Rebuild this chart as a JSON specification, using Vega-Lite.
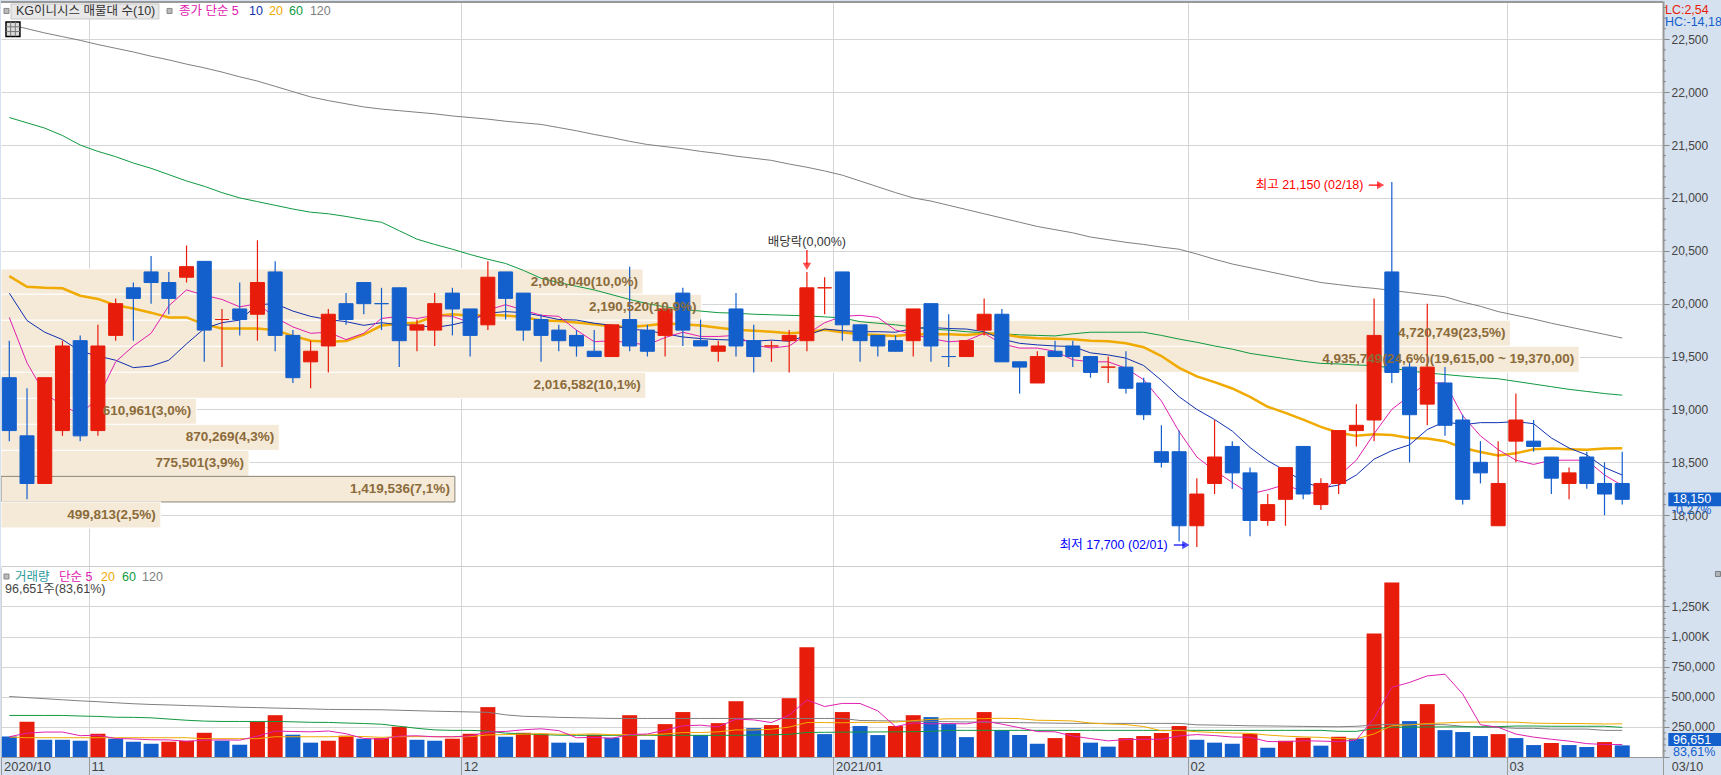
{"$schema":"https://vega.github.io/schema/vega-lite/v6.json","padding":0,"background":"#D6E1EF","spacing":0,
"config":{"font":"Liberation Sans, Noto Sans CJK KR","view":{"stroke":null,"fill":"#ffffff"},"text":{"fontSize":12.5}},
"datasets":{
"bars":[
{"i":0,"t":"2020-10-26","d":"down","o":19300,"h":19650,"l":18700,"c":18800,"v":171000,"vd":"down","m5":19870,"m10":20100,"m20":20260,"m60":21760,"m120":22640,"v5":168000,"v20":166000,"v60":345000,"v120":502000},
{"i":1,"t":"2020-10-27","d":"down","o":18750,"h":19200,"l":18150,"c":18300,"v":292000,"vd":"up","m5":19440,"m10":19840,"m20":20160,"m60":21710,"m120":22600,"v5":198000,"v20":160000,"v60":345000,"v120":493000},
{"i":2,"t":"2020-10-28","d":"up","o":18300,"h":19300,"l":18300,"c":19300,"v":143000,"vd":"down","m5":19150,"m10":19730,"m20":20150,"m60":21660,"m120":22560,"v5":207000,"v20":160000,"v60":345000,"v120":484000},
{"i":3,"t":"2020-10-29","d":"up","o":18800,"h":19650,"l":18750,"c":19600,"v":143000,"vd":"down","m5":19040,"m10":19660,"m20":20145,"m60":21590,"m120":22525,"v5":207000,"v20":160000,"v60":345000,"v120":475000},
{"i":4,"t":"2020-10-30","d":"down","o":19650,"h":19700,"l":18700,"c":18750,"v":135000,"vd":"down","m5":18950,"m10":19550,"m20":20075,"m60":21500,"m120":22490,"v5":177000,"v20":160000,"v60":340000,"v120":466000},
{"i":5,"t":"2020-11-02","d":"up","o":18800,"h":19800,"l":18750,"c":19600,"v":193000,"vd":"up","m5":19110,"m10":19505,"m20":20045,"m60":21440,"m120":22450,"v5":181000,"v20":160000,"v60":337000,"v120":459000},
{"i":6,"t":"2020-11-03","d":"up","o":19700,"h":20050,"l":19650,"c":20000,"v":152000,"vd":"down","m5":19450,"m10":19465,"m20":19985,"m60":21390,"m120":22415,"v5":153000,"v20":160000,"v60":330000,"v120":450000},
{"i":7,"t":"2020-11-04","d":"down","o":20150,"h":20200,"l":19650,"c":20050,"v":127000,"vd":"down","m5":19600,"m10":19395,"m20":19955,"m60":21330,"m120":22380,"v5":150000,"v20":160000,"v60":329000,"v120":442000},
{"i":8,"t":"2020-11-05","d":"down","o":20300,"h":20450,"l":20000,"c":20200,"v":110000,"vd":"down","m5":19720,"m10":19410,"m20":19915,"m60":21280,"m120":22340,"v5":143000,"v20":160000,"v60":325000,"v120":436000},
{"i":9,"t":"2020-11-06","d":"down","o":20200,"h":20300,"l":19900,"c":20050,"v":127000,"vd":"up","m5":19980,"m10":19465,"m20":19870,"m60":21220,"m120":22305,"v5":142000,"v20":160000,"v60":315000,"v120":432000},
{"i":10,"t":"2020-11-09","d":"up","o":20250,"h":20550,"l":20200,"c":20350,"v":135000,"vd":"up","m5":20130,"m10":19620,"m20":19870,"m60":21160,"m120":22265,"v5":130000,"v20":160000,"v60":305000,"v120":427000},
{"i":11,"t":"2020-11-10","d":"down","o":20400,"h":20400,"l":19450,"c":19750,"v":201000,"vd":"up","m5":20080,"m10":19765,"m20":19805,"m60":21110,"m120":22230,"v5":140000,"v20":152000,"v60":298000,"v120":423000},
{"i":12,"t":"2020-11-11","d":"up","o":19850,"h":19950,"l":19400,"c":19850,"v":135000,"vd":"down","m5":20040,"m10":19820,"m20":19765,"m60":21050,"m120":22190,"v5":142000,"v20":152000,"v60":295000,"v120":418000},
{"i":13,"t":"2020-11-12","d":"down","o":19950,"h":20200,"l":19700,"c":19850,"v":102000,"vd":"down","m5":19970,"m10":19845,"m20":19765,"m60":21000,"m120":22145,"v5":140000,"v20":152000,"v60":295000,"v120":413000},
{"i":14,"t":"2020-11-13","d":"up","o":19900,"h":20600,"l":19650,"c":20200,"v":292000,"vd":"up","m5":20000,"m10":19990,"m20":19765,"m60":20965,"m120":22105,"v5":173000,"v20":152000,"v60":295000,"v120":410000},
{"i":15,"t":"2020-11-16","d":"down","o":20300,"h":20400,"l":19550,"c":19700,"v":347000,"vd":"up","m5":19870,"m10":20000,"m20":19750,"m60":20930,"m120":22055,"v5":215000,"v20":168000,"v60":295000,"v120":406000},
{"i":16,"t":"2020-11-17","d":"down","o":19700,"h":19750,"l":19250,"c":19300,"v":185000,"vd":"down","m5":19780,"m10":19930,"m20":19695,"m60":20895,"m120":22005,"v5":212000,"v20":168000,"v60":292000,"v120":403000},
{"i":17,"t":"2020-11-18","d":"up","o":19450,"h":19650,"l":19200,"c":19550,"v":119000,"vd":"down","m5":19720,"m10":19880,"m20":19650,"m60":20865,"m120":21955,"v5":209000,"v20":168000,"v60":288000,"v120":399000},
{"i":18,"t":"2020-11-19","d":"up","o":19600,"h":19950,"l":19350,"c":19900,"v":135000,"vd":"up","m5":19730,"m10":19850,"m20":19640,"m60":20850,"m120":21920,"v5":216000,"v20":168000,"v60":287000,"v120":395000},
{"i":19,"t":"2020-11-20","d":"down","o":20000,"h":20100,"l":19800,"c":19850,"v":177000,"vd":"up","m5":19660,"m10":19830,"m20":19648,"m60":20825,"m120":21890,"v5":193000,"v20":171000,"v60":282000,"v120":394000},
{"i":20,"t":"2020-11-23","d":"down","o":20200,"h":20200,"l":19900,"c":20000,"v":152000,"vd":"down","m5":19720,"m10":19795,"m20":19708,"m60":20795,"m120":21860,"v5":154000,"v20":170000,"v60":278000,"v120":393000},
{"i":21,"t":"2020-11-24","d":"down","o":20000,"h":20150,"l":19750,"c":20000,"v":157000,"vd":"up","m5":19860,"m10":19820,"m20":19793,"m60":20770,"m120":21840,"v5":148000,"v20":163000,"v60":272000,"v120":392000},
{"i":22,"t":"2020-11-25","d":"down","o":20150,"h":20150,"l":19400,"c":19650,"v":251000,"vd":"up","m5":19880,"m10":19800,"m20":19810,"m60":20690,"m120":21825,"v5":174000,"v20":169000,"v60":255000,"v120":388000},
{"i":23,"t":"2020-11-26","d":"up","o":19750,"h":19850,"l":19550,"c":19800,"v":143000,"vd":"down","m5":19860,"m10":19795,"m20":19820,"m60":20610,"m120":21810,"v5":176000,"v20":169000,"v60":238000,"v120":384000},
{"i":24,"t":"2020-11-27","d":"up","o":19750,"h":20100,"l":19600,"c":20000,"v":135000,"vd":"down","m5":19890,"m10":19775,"m20":19883,"m60":20560,"m120":21795,"v5":168000,"v20":169000,"v60":225000,"v120":380000},
{"i":25,"t":"2020-11-30","d":"down","o":20100,"h":20150,"l":19700,"c":19950,"v":152000,"vd":"up","m5":19880,"m10":19800,"m20":19900,"m60":20515,"m120":21775,"v5":168000,"v20":167000,"v60":221000,"v120":377000},
{"i":26,"t":"2020-12-01","d":"down","o":19950,"h":19950,"l":19500,"c":19700,"v":193000,"vd":"up","m5":19820,"m10":19840,"m20":19885,"m60":20465,"m120":21760,"v5":175000,"v20":169000,"v60":221000,"v120":374000},
{"i":27,"t":"2020-12-02","d":"up","o":19800,"h":20400,"l":19750,"c":20250,"v":414000,"vd":"up","m5":19940,"m10":19910,"m20":19895,"m60":20420,"m120":21745,"v5":207000,"v20":183000,"v60":215000,"v120":371000},
{"i":28,"t":"2020-12-03","d":"down","o":20300,"h":20300,"l":19850,"c":20050,"v":168000,"vd":"down","m5":19990,"m10":19925,"m20":19888,"m60":20380,"m120":21725,"v5":212000,"v20":186000,"v60":198000,"v120":350000},
{"i":29,"t":"2020-12-04","d":"down","o":20100,"h":20100,"l":19650,"c":19750,"v":201000,"vd":"up","m5":19940,"m10":19915,"m20":19873,"m60":20315,"m120":21710,"v5":226000,"v20":190000,"v60":192000,"v120":338000},
{"i":30,"t":"2020-12-07","d":"down","o":19850,"h":19900,"l":19450,"c":19700,"v":193000,"vd":"up","m5":19890,"m10":19885,"m20":19840,"m60":20240,"m120":21695,"v5":234000,"v20":193000,"v60":186000,"v120":334000},
{"i":31,"t":"2020-12-08","d":"down","o":19750,"h":19800,"l":19550,"c":19650,"v":119000,"vd":"down","m5":19880,"m10":19850,"m20":19835,"m60":20200,"m120":21665,"v5":219000,"v20":189000,"v60":181000,"v120":329000},
{"i":32,"t":"2020-12-09","d":"down","o":19700,"h":19750,"l":19500,"c":19600,"v":119000,"vd":"down","m5":19750,"m10":19845,"m20":19823,"m60":20165,"m120":21635,"v5":160000,"v20":188000,"v60":180000,"v120":326000},
{"i":33,"t":"2020-12-10","d":"down","o":19550,"h":19750,"l":19500,"c":19500,"v":185000,"vd":"up","m5":19640,"m10":19815,"m20":19805,"m60":20130,"m120":21600,"v5":163000,"v20":192000,"v60":180000,"v120":323000},
{"i":34,"t":"2020-12-11","d":"up","o":19500,"h":19800,"l":19500,"c":19800,"v":160000,"vd":"down","m5":19650,"m10":19795,"m20":19785,"m60":20085,"m120":21570,"v5":155000,"v20":185000,"v60":180000,"v120":320000},
{"i":35,"t":"2020-12-14","d":"down","o":19850,"h":20350,"l":19550,"c":19600,"v":347000,"vd":"up","m5":19630,"m10":19760,"m20":19780,"m60":20040,"m120":21535,"v5":186000,"v20":185000,"v60":180000,"v120":320000},
{"i":36,"t":"2020-12-15","d":"down","o":19750,"h":19800,"l":19500,"c":19550,"v":143000,"vd":"down","m5":19610,"m10":19745,"m20":19793,"m60":20000,"m120":21505,"v5":191000,"v20":183000,"v60":180000,"v120":320000},
{"i":37,"t":"2020-12-16","d":"up","o":19700,"h":19950,"l":19500,"c":19950,"v":273000,"vd":"up","m5":19680,"m10":19715,"m20":19813,"m60":19970,"m120":21485,"v5":222000,"v20":191000,"v60":180000,"v120":320000},
{"i":38,"t":"2020-12-17","d":"down","o":20100,"h":20150,"l":19600,"c":19750,"v":373000,"vd":"up","m5":19730,"m10":19685,"m20":19805,"m60":19945,"m120":21465,"v5":259000,"v20":203000,"v60":180000,"v120":320000},
{"i":39,"t":"2020-12-18","d":"down","o":19650,"h":19850,"l":19600,"c":19600,"v":182000,"vd":"down","m5":19690,"m10":19670,"m20":19793,"m60":19930,"m120":21440,"v5":264000,"v20":203000,"v60":180000,"v120":320000},
{"i":40,"t":"2020-12-21","d":"up","o":19550,"h":19650,"l":19450,"c":19600,"v":281000,"vd":"up","m5":19690,"m10":19660,"m20":19773,"m60":19915,"m120":21420,"v5":250000,"v20":209000,"v60":180000,"v120":320000},
{"i":41,"t":"2020-12-22","d":"down","o":19950,"h":20100,"l":19500,"c":19600,"v":463000,"vd":"up","m5":19700,"m10":19655,"m20":19753,"m60":19910,"m120":21395,"v5":314000,"v20":225000,"v60":180000,"v120":320000},
{"i":42,"t":"2020-12-23","d":"down","o":19650,"h":19800,"l":19350,"c":19500,"v":240000,"vd":"down","m5":19610,"m10":19645,"m20":19745,"m60":19900,"m120":21375,"v5":308000,"v20":224000,"v60":182000,"v120":320000},
{"i":43,"t":"2020-12-24","d":"up","o":19600,"h":19650,"l":19450,"c":19600,"v":265000,"vd":"up","m5":19580,"m10":19655,"m20":19735,"m60":19895,"m120":21355,"v5":286000,"v20":230000,"v60":184000,"v120":320000},
{"i":44,"t":"2020-12-28","d":"up","o":19650,"h":19750,"l":19350,"c":19700,"v":488000,"vd":"up","m5":19600,"m10":19645,"m20":19720,"m60":19890,"m120":21320,"v5":347000,"v20":248000,"v60":188000,"v120":320000},
{"i":45,"t":"2020-12-29","d":"up","o":19650,"h":20300,"l":19550,"c":20150,"v":911000,"vd":"up","m5":19710,"m10":19700,"m20":19730,"m60":19885,"m120":21290,"v5":473000,"v20":286000,"v60":204000,"v120":320000},
{"i":46,"t":"2020-12-30","d":"up","o":20150,"h":20250,"l":19900,"c":20150,"v":190000,"vd":"down","m5":19820,"m10":19760,"m20":19753,"m60":19875,"m120":21255,"v5":419000,"v20":286000,"v60":205000,"v120":320000},
{"i":47,"t":"2021-01-04","d":"down","o":20300,"h":20300,"l":19650,"c":19800,"v":373000,"vd":"up","m5":19880,"m10":19745,"m20":19730,"m60":19865,"m120":21215,"v5":445000,"v20":284000,"v60":206000,"v120":320000},
{"i":48,"t":"2021-01-05","d":"down","o":19800,"h":19800,"l":19450,"c":19650,"v":257000,"vd":"down","m5":19890,"m10":19735,"m20":19710,"m60":19830,"m120":21160,"v5":444000,"v20":288000,"v60":207000,"v120":303000},
{"i":49,"t":"2021-01-06","d":"down","o":19700,"h":19700,"l":19500,"c":19600,"v":182000,"vd":"down","m5":19870,"m10":19735,"m20":19703,"m60":19815,"m120":21105,"v5":383000,"v20":287000,"v60":208000,"v120":301000},
{"i":50,"t":"2021-01-07","d":"down","o":19650,"h":19700,"l":19550,"c":19550,"v":257000,"vd":"up","m5":19750,"m10":19730,"m20":19695,"m60":19800,"m120":21050,"v5":252000,"v20":290000,"v60":209000,"v120":299000},
{"i":51,"t":"2021-01-08","d":"up","o":19650,"h":19950,"l":19500,"c":19950,"v":347000,"vd":"up","m5":19710,"m10":19765,"m20":19710,"m60":19780,"m120":21000,"v5":283000,"v20":302000,"v60":210000,"v120":297000},
{"i":52,"t":"2021-01-11","d":"down","o":20000,"h":20000,"l":19450,"c":19600,"v":331000,"vd":"down","m5":19670,"m10":19775,"m20":19710,"m60":19760,"m120":20970,"v5":275000,"v20":312000,"v60":213000,"v120":295000},
{"i":53,"t":"2021-01-12","d":"down","o":19500,"h":19900,"l":19400,"c":19500,"v":273000,"vd":"down","m5":19640,"m10":19765,"m20":19710,"m60":19750,"m120":20930,"v5":278000,"v20":317000,"v60":221000,"v120":293000},
{"i":54,"t":"2021-01-13","d":"up","o":19500,"h":19650,"l":19500,"c":19650,"v":165000,"vd":"down","m5":19650,"m10":19760,"m20":19703,"m60":19735,"m120":20890,"v5":275000,"v20":317000,"v60":221000,"v120":291000},
{"i":55,"t":"2021-01-14","d":"up","o":19750,"h":20050,"l":19700,"c":19900,"v":373000,"vd":"up","m5":19720,"m10":19735,"m20":19718,"m60":19725,"m120":20850,"v5":298000,"v20":318000,"v60":221000,"v120":289000},
{"i":56,"t":"2021-01-15","d":"down","o":19900,"h":19950,"l":19450,"c":19450,"v":223000,"vd":"down","m5":19620,"m10":19665,"m20":19713,"m60":19715,"m120":20810,"v5":273000,"v20":322000,"v60":221000,"v120":287000},
{"i":57,"t":"2021-01-18","d":"down","o":19450,"h":19450,"l":19150,"c":19400,"v":182000,"vd":"down","m5":19580,"m10":19625,"m20":19685,"m60":19705,"m120":20770,"v5":243000,"v20":318000,"v60":221000,"v120":285000},
{"i":58,"t":"2021-01-19","d":"up","o":19250,"h":19550,"l":19250,"c":19500,"v":110000,"vd":"down","m5":19580,"m10":19610,"m20":19673,"m60":19700,"m120":20730,"v5":211000,"v20":305000,"v60":221000,"v120":283000},
{"i":59,"t":"2021-01-20","d":"down","o":19550,"h":19650,"l":19500,"c":19500,"v":157000,"vd":"up","m5":19550,"m10":19600,"m20":19668,"m60":19695,"m120":20700,"v5":209000,"v20":303000,"v60":221000,"v120":281000},
{"i":60,"t":"2021-01-21","d":"down","o":19600,"h":19650,"l":19400,"c":19500,"v":199000,"vd":"up","m5":19470,"m10":19595,"m20":19663,"m60":19715,"m120":20670,"v5":174000,"v20":299000,"v60":221000,"v120":279000},
{"i":61,"t":"2021-01-22","d":"down","o":19500,"h":19500,"l":19300,"c":19350,"v":119000,"vd":"down","m5":19450,"m10":19535,"m20":19650,"m60":19730,"m120":20630,"v5":153000,"v20":282000,"v60":221000,"v120":279000},
{"i":62,"t":"2021-01-25","d":"up","o":19400,"h":19500,"l":19250,"c":19400,"v":86000,"vd":"down","m5":19450,"m10":19515,"m20":19645,"m60":19730,"m120":20605,"v5":134000,"v20":274000,"v60":221000,"v120":279000},
{"i":63,"t":"2021-01-26","d":"down","o":19400,"h":19550,"l":19150,"c":19200,"v":157000,"vd":"up","m5":19390,"m10":19485,"m20":19625,"m60":19730,"m120":20580,"v5":144000,"v20":269000,"v60":221000,"v120":279000},
{"i":64,"t":"2021-01-27","d":"down","o":19250,"h":19300,"l":18900,"c":18950,"v":174000,"vd":"up","m5":19280,"m10":19415,"m20":19588,"m60":19730,"m120":20560,"v5":147000,"v20":253000,"v60":221000,"v120":279000},
{"i":65,"t":"2021-01-28","d":"down","o":18600,"h":18850,"l":18450,"c":18500,"v":199000,"vd":"up","m5":19080,"m10":19275,"m20":19505,"m60":19700,"m120":20535,"v5":147000,"v20":218000,"v60":221000,"v120":279000},
{"i":66,"t":"2021-01-29","d":"down","o":18600,"h":18800,"l":17750,"c":17900,"v":257000,"vd":"up","m5":18790,"m10":19120,"m20":19393,"m60":19665,"m120":20515,"v5":175000,"v20":221000,"v60":221000,"v120":279000},
{"i":67,"t":"2021-02-01","d":"up","o":17900,"h":18350,"l":17700,"c":18200,"v":143000,"vd":"down","m5":18550,"m10":19000,"m20":19313,"m60":19635,"m120":20470,"v5":186000,"v20":210000,"v60":221000,"v120":267000},
{"i":68,"t":"2021-02-02","d":"up","o":18300,"h":18900,"l":18200,"c":18550,"v":119000,"vd":"down","m5":18420,"m10":18905,"m20":19258,"m60":19600,"m120":20420,"v5":178000,"v20":203000,"v60":221000,"v120":265000},
{"i":69,"t":"2021-02-03","d":"down","o":18650,"h":18700,"l":18250,"c":18400,"v":110000,"vd":"down","m5":18310,"m10":18795,"m20":19198,"m60":19570,"m120":20375,"v5":166000,"v20":199000,"v60":221000,"v120":262000},
{"i":70,"t":"2021-02-04","d":"down","o":18400,"h":18450,"l":17800,"c":17950,"v":193000,"vd":"up","m5":18200,"m10":18640,"m20":19118,"m60":19530,"m120":20340,"v5":164000,"v20":196000,"v60":221000,"v120":259000},
{"i":71,"t":"2021-02-05","d":"up","o":17950,"h":18200,"l":17900,"c":18100,"v":77000,"vd":"down","m5":18240,"m10":18515,"m20":19025,"m60":19505,"m120":20305,"v5":128000,"v20":182000,"v60":221000,"v120":258000},
{"i":72,"t":"2021-02-08","d":"up","o":18150,"h":18450,"l":17900,"c":18450,"v":135000,"vd":"up","m5":18290,"m10":18420,"m20":18968,"m60":19480,"m120":20270,"v5":127000,"v20":173000,"v60":221000,"v120":256000},
{"i":73,"t":"2021-02-09","d":"down","o":18650,"h":18650,"l":18150,"c":18200,"v":160000,"vd":"up","m5":18220,"m10":18320,"m20":18903,"m60":19455,"m120":20235,"v5":135000,"v20":167000,"v60":221000,"v120":254000},
{"i":74,"t":"2021-02-10","d":"up","o":18100,"h":18350,"l":18050,"c":18300,"v":94000,"vd":"down","m5":18200,"m10":18255,"m20":18835,"m60":19435,"m120":20200,"v5":132000,"v20":163000,"v60":221000,"v120":252000},
{"i":75,"t":"2021-02-15","d":"up","o":18300,"h":18800,"l":18200,"c":18800,"v":168000,"vd":"up","m5":18370,"m10":18285,"m20":18780,"m60":19430,"m120":20180,"v5":127000,"v20":153000,"v60":213000,"v120":251000},
{"i":76,"t":"2021-02-16","d":"up","o":18800,"h":19050,"l":18650,"c":18850,"v":152000,"vd":"down","m5":18520,"m10":18380,"m20":18750,"m60":19420,"m120":20160,"v5":142000,"v20":150000,"v60":213000,"v120":255000},
{"i":77,"t":"2021-02-17","d":"up","o":18900,"h":20050,"l":18700,"c":19700,"v":1026000,"vd":"up","m5":18770,"m10":18530,"m20":18765,"m60":19415,"m120":20145,"v5":320000,"v20":192000,"v60":235000,"v120":265000},
{"i":78,"t":"2021-02-18","d":"down","o":20300,"h":21150,"l":19250,"c":19350,"v":1449000,"vd":"up","m5":19000,"m10":18610,"m20":18758,"m60":19390,"m120":20125,"v5":578000,"v20":259000,"v60":247000,"v120":271000},
{"i":79,"t":"2021-02-19","d":"down","o":19400,"h":19450,"l":18500,"c":18950,"v":298000,"vd":"down","m5":19130,"m10":18665,"m20":18730,"m60":19365,"m120":20105,"v5":619000,"v20":266000,"v60":248000,"v120":271000},
{"i":80,"t":"2021-02-22","d":"up","o":19050,"h":20000,"l":18850,"c":19400,"v":439000,"vd":"up","m5":19250,"m10":18810,"m20":18725,"m60":19345,"m120":20085,"v5":673000,"v20":278000,"v60":249000,"v120":270000},
{"i":81,"t":"2021-02-23","d":"down","o":19250,"h":19400,"l":18750,"c":18850,"v":223000,"vd":"down","m5":19250,"m10":18885,"m20":18700,"m60":19330,"m120":20065,"v5":687000,"v20":283000,"v60":250000,"v120":268000},
{"i":82,"t":"2021-02-24","d":"down","o":18900,"h":18950,"l":18100,"c":18150,"v":207000,"vd":"down","m5":18940,"m10":18855,"m20":18638,"m60":19315,"m120":20015,"v5":523000,"v20":289000,"v60":250000,"v120":255000},
{"i":83,"t":"2021-02-25","d":"down","o":18500,"h":18700,"l":18300,"c":18400,"v":174000,"vd":"down","m5":18750,"m10":18875,"m20":18598,"m60":19300,"m120":19975,"v5":268000,"v20":290000,"v60":251000,"v120":246000},
{"i":84,"t":"2021-02-26","d":"up","o":17900,"h":18700,"l":17900,"c":18300,"v":190000,"vd":"up","m5":18620,"m10":18875,"m20":18565,"m60":19290,"m120":19925,"v5":247000,"v20":291000,"v60":252000,"v120":246000},
{"i":85,"t":"2021-03-02","d":"up","o":18700,"h":19150,"l":18500,"c":18900,"v":157000,"vd":"down","m5":18520,"m10":18885,"m20":18585,"m60":19265,"m120":19890,"v5":190000,"v20":289000,"v60":257000,"v120":238000},
{"i":86,"t":"2021-03-03","d":"down","o":18700,"h":18900,"l":18600,"c":18650,"v":99000,"vd":"down","m5":18480,"m10":18865,"m20":18623,"m60":19240,"m120":19855,"v5":165000,"v20":281000,"v60":257000,"v120":238000},
{"i":87,"t":"2021-03-04","d":"down","o":18550,"h":18550,"l":18200,"c":18350,"v":116000,"vd":"up","m5":18520,"m10":18730,"m20":18630,"m60":19215,"m120":19815,"v5":147000,"v20":279000,"v60":255000,"v120":232000},
{"i":88,"t":"2021-03-05","d":"up","o":18300,"h":18450,"l":18150,"c":18400,"v":99000,"vd":"down","m5":18520,"m10":18635,"m20":18623,"m60":19190,"m120":19780,"v5":132000,"v20":278000,"v60":255000,"v120":232000},
{"i":89,"t":"2021-03-08","d":"down","o":18550,"h":18600,"l":18250,"c":18300,"v":83000,"vd":"down","m5":18520,"m10":18570,"m20":18618,"m60":19170,"m120":19745,"v5":111000,"v20":277000,"v60":255000,"v120":232000},
{"i":90,"t":"2021-03-09","d":"down","o":18300,"h":18500,"l":18000,"c":18200,"v":124000,"vd":"up","m5":18380,"m10":18450,"m20":18630,"m60":19150,"m120":19710,"v5":104000,"v20":274000,"v60":255000,"v120":221000},
{"i":91,"t":"2021-03-10","d":"down","o":18300,"h":18600,"l":18100,"c":18150,"v":96651,"vd":"down","m5":18280,"m10":18380,"m20":18633,"m60":19135,"m120":19675,"v5":104000,"v20":275000,"v60":246000,"v120":221000}
],
"bands":[
{"top":20328,"bot":20089,"mid":20208,"vol0":0,"vol":2008040,"cur":false,"label":"2,008,040(10,0%)"},
{"top":20089,"bot":19843,"mid":19966,"vol0":0,"vol":2190520,"cur":false,"label":"2,190,520(10,9%)"},
{"top":19843,"bot":19597,"mid":19720,"vol0":0,"vol":4720749,"cur":false,"label":"4,720,749(23,5%)"},
{"top":19597,"bot":19351,"mid":19474,"vol0":0,"vol":4935749,"cur":false,"label":"4,935,749(24,6%)(19,615,00 ~ 19,370,00)"},
{"top":19351,"bot":19105,"mid":19228,"vol0":0,"vol":2016582,"cur":false,"label":"2,016,582(10,1%)"},
{"top":19105,"bot":18859,"mid":18982,"vol0":0,"vol":610961,"cur":false,"label":"610,961(3,0%)"},
{"top":18859,"bot":18613,"mid":18736,"vol0":0,"vol":870269,"cur":false,"label":"870,269(4,3%)"},
{"top":18613,"bot":18367,"mid":18490,"vol0":0,"vol":775501,"cur":false,"label":"775,501(3,9%)"},
{"top":18367,"bot":18125,"mid":18246,"vol0":0,"vol":1419536,"cur":true,"label":"1,419,536(7,1%)"},
{"top":18125,"bot":17879,"mid":18002,"vol0":0,"vol":499813,"cur":false,"label":"499,813(2,5%)"}
],
"priceTicks":[{"i0":93.3,"i1":93.47,"p":17600},{"i0":93.3,"i1":93.47,"p":17700},{"i0":93.3,"i1":93.47,"p":17800},{"i0":93.3,"i1":93.47,"p":17900},{"i0":93.3,"i1":93.47,"p":18100},{"i0":93.3,"i1":93.47,"p":18200},{"i0":93.3,"i1":93.47,"p":18300},{"i0":93.3,"i1":93.47,"p":18400},{"i0":93.3,"i1":93.47,"p":18600},{"i0":93.3,"i1":93.47,"p":18700},{"i0":93.3,"i1":93.47,"p":18800},{"i0":93.3,"i1":93.47,"p":18900},{"i0":93.3,"i1":93.47,"p":19100},{"i0":93.3,"i1":93.47,"p":19200},{"i0":93.3,"i1":93.47,"p":19300},{"i0":93.3,"i1":93.47,"p":19400},{"i0":93.3,"i1":93.47,"p":19600},{"i0":93.3,"i1":93.47,"p":19700},{"i0":93.3,"i1":93.47,"p":19800},{"i0":93.3,"i1":93.47,"p":19900},{"i0":93.3,"i1":93.47,"p":20100},{"i0":93.3,"i1":93.47,"p":20200},{"i0":93.3,"i1":93.47,"p":20300},{"i0":93.3,"i1":93.47,"p":20400},{"i0":93.3,"i1":93.47,"p":20600},{"i0":93.3,"i1":93.47,"p":20700},{"i0":93.3,"i1":93.47,"p":20800},{"i0":93.3,"i1":93.47,"p":20900},{"i0":93.3,"i1":93.47,"p":21100},{"i0":93.3,"i1":93.47,"p":21200},{"i0":93.3,"i1":93.47,"p":21300},{"i0":93.3,"i1":93.47,"p":21400},{"i0":93.3,"i1":93.47,"p":21600},{"i0":93.3,"i1":93.47,"p":21700},{"i0":93.3,"i1":93.47,"p":21800},{"i0":93.3,"i1":93.47,"p":21900},{"i0":93.3,"i1":93.47,"p":22100},{"i0":93.3,"i1":93.47,"p":22200},{"i0":93.3,"i1":93.47,"p":22300},{"i0":93.3,"i1":93.47,"p":22400},{"i0":93.3,"i1":93.47,"p":22600},{"i0":93.3,"i1":93.47,"p":22700},{"i0":93.3,"i1":93.47,"p":22800}],
"volTicks":[{"i0":93.3,"i1":93.47,"v":50000},{"i0":93.3,"i1":93.47,"v":100000},{"i0":93.3,"i1":93.47,"v":150000},{"i0":93.3,"i1":93.47,"v":200000},{"i0":93.3,"i1":93.47,"v":300000},{"i0":93.3,"i1":93.47,"v":350000},{"i0":93.3,"i1":93.47,"v":400000},{"i0":93.3,"i1":93.47,"v":450000},{"i0":93.3,"i1":93.47,"v":550000},{"i0":93.3,"i1":93.47,"v":600000},{"i0":93.3,"i1":93.47,"v":650000},{"i0":93.3,"i1":93.47,"v":700000},{"i0":93.3,"i1":93.47,"v":800000},{"i0":93.3,"i1":93.47,"v":850000},{"i0":93.3,"i1":93.47,"v":900000},{"i0":93.3,"i1":93.47,"v":950000},{"i0":93.3,"i1":93.47,"v":1050000},{"i0":93.3,"i1":93.47,"v":1100000},{"i0":93.3,"i1":93.47,"v":1150000},{"i0":93.3,"i1":93.47,"v":1200000},{"i0":93.3,"i1":93.47,"v":1300000},{"i0":93.3,"i1":93.47,"v":1350000},{"i0":93.3,"i1":93.47,"v":1400000},{"i0":93.3,"i1":93.47,"v":1450000},{"i0":93.3,"i1":93.47,"v":1500000},{"i0":93.3,"i1":93.47,"v":1550000}],
"priceText":[
{"s":"name","i":0.38,"p":22768,"label":"KG이니시스 매물대 수(10)"},
{"s":"m5","i":9.57,"p":22768,"label":"종가 단순 5"},
{"s":"m10","i":13.52,"p":22768,"label":"10"},
{"s":"m20","i":14.65,"p":22768,"label":"20"},
{"s":"m60","i":15.78,"p":22768,"label":"60"},
{"s":"m120","i":16.96,"p":22768,"label":"120"},
{"s":"red","i":93.41,"p":22777,"label":"LC:2,54"},
{"s":"blue","i":93.41,"p":22664,"label":"HC:-14,18"},
{"s":"white","i":93.86,"p":18150,"label":"18,150"},
{"s":"blue","i":93.8,"p":18049,"label":"-0,27%"}
],
"volText":[
{"s":"teal","i":0.32,"v":1498000,"label":"거래량"},
{"s":"m5","i":2.8,"v":1498000,"label":"단순 5"},
{"s":"m20","i":5.17,"v":1498000,"label":"20"},
{"s":"m60","i":6.36,"v":1498000,"label":"60"},
{"s":"m120","i":7.49,"v":1498000,"label":"120"},
{"s":"dark","i":-0.24,"v":1391000,"label":"96,651주(83,61%)"},
{"s":"white","i":93.86,"v":145000,"label":"96,651"},
{"s":"blue","i":93.86,"v":44000,"label":"83,61%"},
{"s":"dark","i":93.8,"v":-83000,"label":"03/10"}
]
},
"vconcat":[
{"width":1662,"height":566,
"resolve":{"scale":{"x":"independent","color":"independent"},"axis":{"y":"independent"}},
"layer":[
{"data":{"name":"bands"},"mark":{"type":"rect","clip":true,"fill":"#F5E9D7"},
"encoding":{"x":{"field":"vol0","type":"quantitative","scale":{"domain":[0,5198000],"nice":false,"zero":false,"padding":0},"axis":null},"x2":{"field":"vol"},
"y":{"field":"top","type":"quantitative","scale":{"domain":[17510,22862],"nice":false,"zero":false,"padding":0},"axis":null},"y2":{"field":"bot"},
"stroke":{"condition":{"test":"datum.cur","value":"#8a8578"},"value":"#ffffff"}}},
{"data":{"name":"bars"},"mark":{"type":"line","stroke":"#808080","strokeWidth":1},
"encoding":{"x":{"field":"i","type":"quantitative","scale":{"domain":[-0.468,93.3],"nice":false,"zero":false,"padding":0},
"axis":{"title":null,"orient":"bottom","values":[4.5,25.5,46.5,66.5,84.5],"grid":true,"gridColor":"#D5D5D5","gridWidth":1,"labels":false,"ticks":false,"domain":true,"domainColor":"#999999","domainWidth":2,"minExtent":0,"maxExtent":0}},
"y":{"field":"m120","type":"quantitative","scale":{"domain":[17510,22862],"nice":false,"zero":false,"padding":0},
"axis":{"title":null,"orient":"right","values":[18000,18500,19000,19500,20000,20500,21000,21500,22000,22500],"labelExpr":"format(datum.value,',')","labelFontSize":12,"labelColor":"#444444","labelPadding":2,"labelFlush":false,"labelBound":false,"labelOverlap":false,
"grid":true,"gridColor":"#D5D5D5","gridWidth":1,"domain":true,"domainColor":"#999999","domainWidth":2,"tickColor":"#888888","tickWidth":1,"tickSize":6,"minExtent":59,"maxExtent":59}}}},
{"data":{"name":"priceTicks"},"mark":{"type":"rule","color":"#888888","strokeWidth":1},"encoding":{"x":{"field":"i0","type":"quantitative","scale":{"domain":[-0.468,93.3],"nice":false,"zero":false,"padding":0},"axis":null},"x2":{"field":"i1"},"y":{"field":"p","type":"quantitative","axis":null}}},
{"data":{"values":[{"i0":-0.468,"i1":93.3,"p":22853}]},"mark":{"type":"rule","color":"#999999","strokeWidth":2},"encoding":{"x":{"field":"i0","type":"quantitative","scale":{"domain":[-0.468,93.3],"nice":false,"zero":false,"padding":0},"axis":null},"x2":{"field":"i1"},"y":{"field":"p","type":"quantitative","axis":null}}},
{"data":{"name":"bars"},"mark":{"type":"line","stroke":"#109A40","strokeWidth":1},"encoding":{"x":{"field":"i","type":"quantitative","scale":{"domain":[-0.468,93.3],"nice":false,"zero":false,"padding":0},"axis":null},"y":{"field":"m60","type":"quantitative","axis":null}}},
{"data":{"name":"bars"},"mark":{"type":"line","stroke":"#F0AA00","strokeWidth":2.5},"encoding":{"x":{"field":"i","type":"quantitative","scale":{"domain":[-0.468,93.3],"nice":false,"zero":false,"padding":0},"axis":null},"y":{"field":"m20","type":"quantitative","axis":null}}},
{"data":{"name":"bars"},"mark":{"type":"line","stroke":"#1030B0","strokeWidth":1},"encoding":{"x":{"field":"i","type":"quantitative","scale":{"domain":[-0.468,93.3],"nice":false,"zero":false,"padding":0},"axis":null},"y":{"field":"m10","type":"quantitative","axis":null}}},
{"data":{"name":"bars"},"mark":{"type":"line","stroke":"#E020B0","strokeWidth":1},"encoding":{"x":{"field":"i","type":"quantitative","scale":{"domain":[-0.468,93.3],"nice":false,"zero":false,"padding":0},"axis":null},"y":{"field":"m5","type":"quantitative","axis":null}}},
{"data":{"name":"bars"},"mark":{"type":"rule","strokeWidth":1.2},"encoding":{"x":{"field":"i","type":"quantitative","scale":{"domain":[-0.468,93.3],"nice":false,"zero":false,"padding":0},"axis":null},"y":{"field":"l","type":"quantitative","axis":null},"y2":{"field":"h"},
"color":{"field":"d","type":"nominal","scale":{"domain":["up","down"],"range":["#E81C0A","#135FCC"]},"legend":null}}},
{"data":{"name":"bars"},"mark":{"type":"bar","size":14,"strokeWidth":1,"orient":"vertical"},"encoding":{"x":{"field":"i","type":"quantitative","scale":{"domain":[-0.468,93.3],"nice":false,"zero":false,"padding":0},"axis":null},"y":{"field":"o","type":"quantitative","axis":null},"y2":{"field":"c"},
"color":{"field":"d","type":"nominal","scale":{"domain":["up","down"],"range":["#E81C0A","#135FCC"]},"legend":null},
"stroke":{"field":"d","type":"nominal","scale":{"domain":["up","down"],"range":["#E81C0A","#135FCC"]},"legend":null}}},
{"data":{"name":"bands"},"mark":{"type":"text","align":"right","dx":-5,"fontWeight":"bold","color":"#8B6B3A","fontSize":13.5},
"encoding":{"x":{"field":"vol","type":"quantitative","scale":{"domain":[0,5198000],"nice":false,"zero":false,"padding":0},"axis":null},"y":{"field":"mid","type":"quantitative","axis":null},"text":{"field":"label"}}},
{"data":{"values":[{"i0":0.096,"i1":8.44,"p0":22834,"p1":22692}]},"mark":{"type":"rect","fill":"#E8E8E8","stroke":"#C8C8C8"},"encoding":{"x":{"field":"i0","type":"quantitative","scale":{"domain":[-0.468,93.3],"nice":false,"zero":false,"padding":0},"axis":null},"x2":{"field":"i1"},"y":{"field":"p0","type":"quantitative","axis":null},"y2":{"field":"p1"}}},
{"data":{"values":[{"i0":-0.186,"i1":0.6,"p0":22664,"p1":22527}]},"mark":{"type":"rect","fill":"#DDDDDD","stroke":"#000000","strokeWidth":1.5},"encoding":{"x":{"field":"i0","type":"quantitative","scale":{"domain":[-0.468,93.3],"nice":false,"zero":false,"padding":0},"axis":null},"x2":{"field":"i1"},"y":{"field":"p0","type":"quantitative","axis":null},"y2":{"field":"p1"}}},
{"data":{"values":[{"i0":-0.186,"i1":0.6,"p":22618},{"i0":-0.186,"i1":0.6,"p":22573}]},"mark":{"type":"rule","color":"#777777","strokeWidth":1},"encoding":{"x":{"field":"i0","type":"quantitative","scale":{"domain":[-0.468,93.3],"nice":false,"zero":false,"padding":0},"axis":null},"x2":{"field":"i1"},"y":{"field":"p","type":"quantitative","axis":null}}},
{"data":{"values":[{"i":0.076,"p0":22664,"p1":22527},{"i":0.338,"p0":22664,"p1":22527}]},"mark":{"type":"rule","color":"#777777","strokeWidth":1},"encoding":{"x":{"field":"i","type":"quantitative","scale":{"domain":[-0.468,93.3],"nice":false,"zero":false,"padding":0},"axis":null},"y":{"field":"p0","type":"quantitative","axis":null},"y2":{"field":"p1"}}},
{"data":{"values":[{"i":-0.158,"p":22768},{"i":9.04,"p":22768}]},"mark":{"type":"point","shape":"square","size":25,"filled":true,"fill":"#A0A0A0","stroke":"#555555","strokeWidth":1},"encoding":{"x":{"field":"i","type":"quantitative","scale":{"domain":[-0.468,93.3],"nice":false,"zero":false,"padding":0},"axis":null},"y":{"field":"p","type":"quantitative","axis":null}}},
{"data":{"values":[{"i0":93.6,"i1":96.6,"p0":18215,"p1":18085}]},"mark":{"type":"rect","fill":"#135FCC"},"encoding":{"x":{"field":"i0","type":"quantitative","scale":{"domain":[-0.468,93.3],"nice":false,"zero":false,"padding":0},"axis":null},"x2":{"field":"i1"},"y":{"field":"p0","type":"quantitative","axis":null},"y2":{"field":"p1"}}},
{"data":{"name":"priceText"},"mark":{"type":"text","align":"left","fontSize":12.5},"encoding":{"x":{"field":"i","type":"quantitative","scale":{"domain":[-0.468,93.3],"nice":false,"zero":false,"padding":0},"axis":null},"y":{"field":"p","type":"quantitative","axis":null},"text":{"field":"label"},
"color":{"field":"s","type":"nominal","legend":null,"scale":{"domain":["name","m5","m10","m20","m60","m120","red","blue","white"],"range":["#333333","#E020B0","#1030B0","#F0AA00","#109A40","#808080","#E81C0A","#135FCC","#ffffff"]}}}},
{"data":{"values":[{"i":45,"p":20583,"label":"배당락(0,00%)"}]},"mark":{"type":"text","align":"center","color":"#333333"},"encoding":{"x":{"field":"i","type":"quantitative","scale":{"domain":[-0.468,93.3],"nice":false,"zero":false,"padding":0},"axis":null},"y":{"field":"p","type":"quantitative","axis":null},"text":{"field":"label"}}},
{"data":{"values":[{"i":45,"p0":20508,"p1":20370}]},"mark":{"type":"rule","color":"#FF0000","strokeWidth":1.2},"encoding":{"x":{"field":"i","type":"quantitative","scale":{"domain":[-0.468,93.3],"nice":false,"zero":false,"padding":0},"axis":null},"y":{"field":"p0","type":"quantitative","axis":null},"y2":{"field":"p1"}}},
{"data":{"values":[{"i":45,"p":20352}]},"mark":{"type":"point","shape":"triangle-down","size":70,"filled":true,"color":"#FF0000"},"encoding":{"x":{"field":"i","type":"quantitative","scale":{"domain":[-0.468,93.3],"nice":false,"zero":false,"padding":0},"axis":null},"y":{"field":"p","type":"quantitative","axis":null}}},
{"data":{"values":[{"i":76.4,"p":21121,"label":"최고 21,150 (02/18)"}]},"mark":{"type":"text","align":"right","color":"#FF0000"},"encoding":{"x":{"field":"i","type":"quantitative","scale":{"domain":[-0.468,93.3],"nice":false,"zero":false,"padding":0},"axis":null},"y":{"field":"p","type":"quantitative","axis":null},"text":{"field":"label"}}},
{"data":{"values":[{"i0":76.7,"i1":77.3,"p":21121}]},"mark":{"type":"rule","color":"#FF0000","strokeWidth":1.2},"encoding":{"x":{"field":"i0","type":"quantitative","scale":{"domain":[-0.468,93.3],"nice":false,"zero":false,"padding":0},"axis":null},"x2":{"field":"i1"},"y":{"field":"p","type":"quantitative","axis":null}}},
{"data":{"values":[{"i":77.37,"p":21121}]},"mark":{"type":"point","shape":"triangle-right","size":70,"filled":true,"color":"#FF0000"},"encoding":{"x":{"field":"i","type":"quantitative","scale":{"domain":[-0.468,93.3],"nice":false,"zero":false,"padding":0},"axis":null},"y":{"field":"p","type":"quantitative","axis":null}}},
{"data":{"values":[{"i":65.35,"p":17718,"label":"최저 17,700 (02/01)"}]},"mark":{"type":"text","align":"right","color":"#0000FF"},"encoding":{"x":{"field":"i","type":"quantitative","scale":{"domain":[-0.468,93.3],"nice":false,"zero":false,"padding":0},"axis":null},"y":{"field":"p","type":"quantitative","axis":null},"text":{"field":"label"}}},
{"data":{"values":[{"i0":65.7,"i1":66.3,"p":17718}]},"mark":{"type":"rule","color":"#0000FF","strokeWidth":1.2},"encoding":{"x":{"field":"i0","type":"quantitative","scale":{"domain":[-0.468,93.3],"nice":false,"zero":false,"padding":0},"axis":null},"x2":{"field":"i1"},"y":{"field":"p","type":"quantitative","axis":null}}},
{"data":{"values":[{"i":66.38,"p":17718}]},"mark":{"type":"point","shape":"triangle-right","size":70,"filled":true,"color":"#0000FF"},"encoding":{"x":{"field":"i","type":"quantitative","scale":{"domain":[-0.468,93.3],"nice":false,"zero":false,"padding":0},"axis":null},"y":{"field":"p","type":"quantitative","axis":null}}}
]},
{"width":1662,"height":190,
"data":{"name":"bars"},
"resolve":{"scale":{"color":"independent"},"axis":{"y":"independent","x":"independent"}},
"layer":[
{"mark":{"type":"bar","size":15,"orient":"vertical"},"encoding":{
"x":{"field":"i","type":"quantitative","scale":{"domain":[-0.468,93.3],"nice":false,"zero":false,"padding":0},
"axis":{"title":null,"orient":"bottom","values":[-0.44,4.5,25.5,46.5,66.5,84.5,93.3],"labelExpr":"datum.value<0?'2020/10':datum.value==4.5?'11':datum.value==25.5?'12':datum.value==46.5?'2021/01':datum.value==66.5?'02':datum.value==84.5?'03':''","labelOverlap":false,"labelFlush":false,"labelBound":false,"labelAlign":"left","labelBaseline":"top","labelFontSize":13,"labelColor":"#444444","labelOffset":2,"labelPadding":-15,
"grid":true,"gridColor":"#D5D5D5","gridWidth":1,"ticks":true,"tickColor":"#999999","tickSize":18,"tickWidth":1,"domain":true,"domainColor":"#999999","domainWidth":1,"minExtent":19,"maxExtent":19}},
"y":{"field":"v","type":"quantitative","scale":{"domain":[0,1577000],"nice":false,"zero":false,"padding":0},
"axis":{"title":null,"orient":"right","values":[0,250000,500000,750000,1000000,1250000],
"labelExpr":"datum.value==0?'':datum.value>=1000000?format(datum.value/1000,',')+'K':format(datum.value,',')","labelOverlap":false,"labelFontSize":12,"labelColor":"#444444","labelPadding":2,"labelFlush":false,"labelBound":false,
"grid":true,"gridColor":"#D5D5D5","gridWidth":1,"domain":true,"domainColor":"#999999","domainWidth":2,"tickColor":"#888888","tickWidth":1,"tickSize":6,"minExtent":59,"maxExtent":59}},
"color":{"field":"vd","type":"nominal","scale":{"domain":["up","down"],"range":["#E81C0A","#135FCC"]},"legend":null}}},
{"data":{"name":"volTicks"},"mark":{"type":"rule","color":"#888888","strokeWidth":1},"encoding":{"x":{"field":"i0","type":"quantitative","axis":null},"x2":{"field":"i1"},"y":{"field":"v","type":"quantitative","axis":null}}},
{"mark":{"type":"line","stroke":"#808080","strokeWidth":1},"encoding":{"x":{"field":"i","type":"quantitative","axis":null},"y":{"field":"v120","type":"quantitative","axis":null}}},
{"mark":{"type":"line","stroke":"#109A40","strokeWidth":1},"encoding":{"x":{"field":"i","type":"quantitative","axis":null},"y":{"field":"v60","type":"quantitative","axis":null}}},
{"mark":{"type":"line","stroke":"#F0AA00","strokeWidth":1},"encoding":{"x":{"field":"i","type":"quantitative","axis":null},"y":{"field":"v20","type":"quantitative","axis":null}}},
{"mark":{"type":"line","stroke":"#E020B0","strokeWidth":1},"encoding":{"x":{"field":"i","type":"quantitative","axis":null},"y":{"field":"v5","type":"quantitative","axis":null}}},
{"data":{"values":[{"i0":93.6,"i1":96.6,"v0":199000,"v1":91000}]},"mark":{"type":"rect","fill":"#135FCC"},"encoding":{"x":{"field":"i0","type":"quantitative","axis":null},"x2":{"field":"i1"},"y":{"field":"v0","type":"quantitative","axis":null},"y2":{"field":"v1"}}},
{"data":{"values":[{"i":-0.158,"v":1498000},{"i":96.4,"v":1519000}]},"mark":{"type":"point","shape":"square","size":25,"filled":true,"fill":"#A0A0A0","stroke":"#555555","strokeWidth":1},"encoding":{"x":{"field":"i","type":"quantitative","axis":null},"y":{"field":"v","type":"quantitative","axis":null}}},
{"data":{"name":"volText"},"mark":{"type":"text","align":"left","fontSize":12.5},"encoding":{"x":{"field":"i","type":"quantitative","axis":null},"y":{"field":"v","type":"quantitative","axis":null},"text":{"field":"label"},
"color":{"field":"s","type":"nominal","legend":null,"scale":{"domain":["teal","m5","m20","m60","m120","dark","white","blue"],"range":["#2A9A9A","#E020B0","#F0AA00","#109A40","#808080","#444444","#ffffff","#135FCC"]}}}}
]}
]}
